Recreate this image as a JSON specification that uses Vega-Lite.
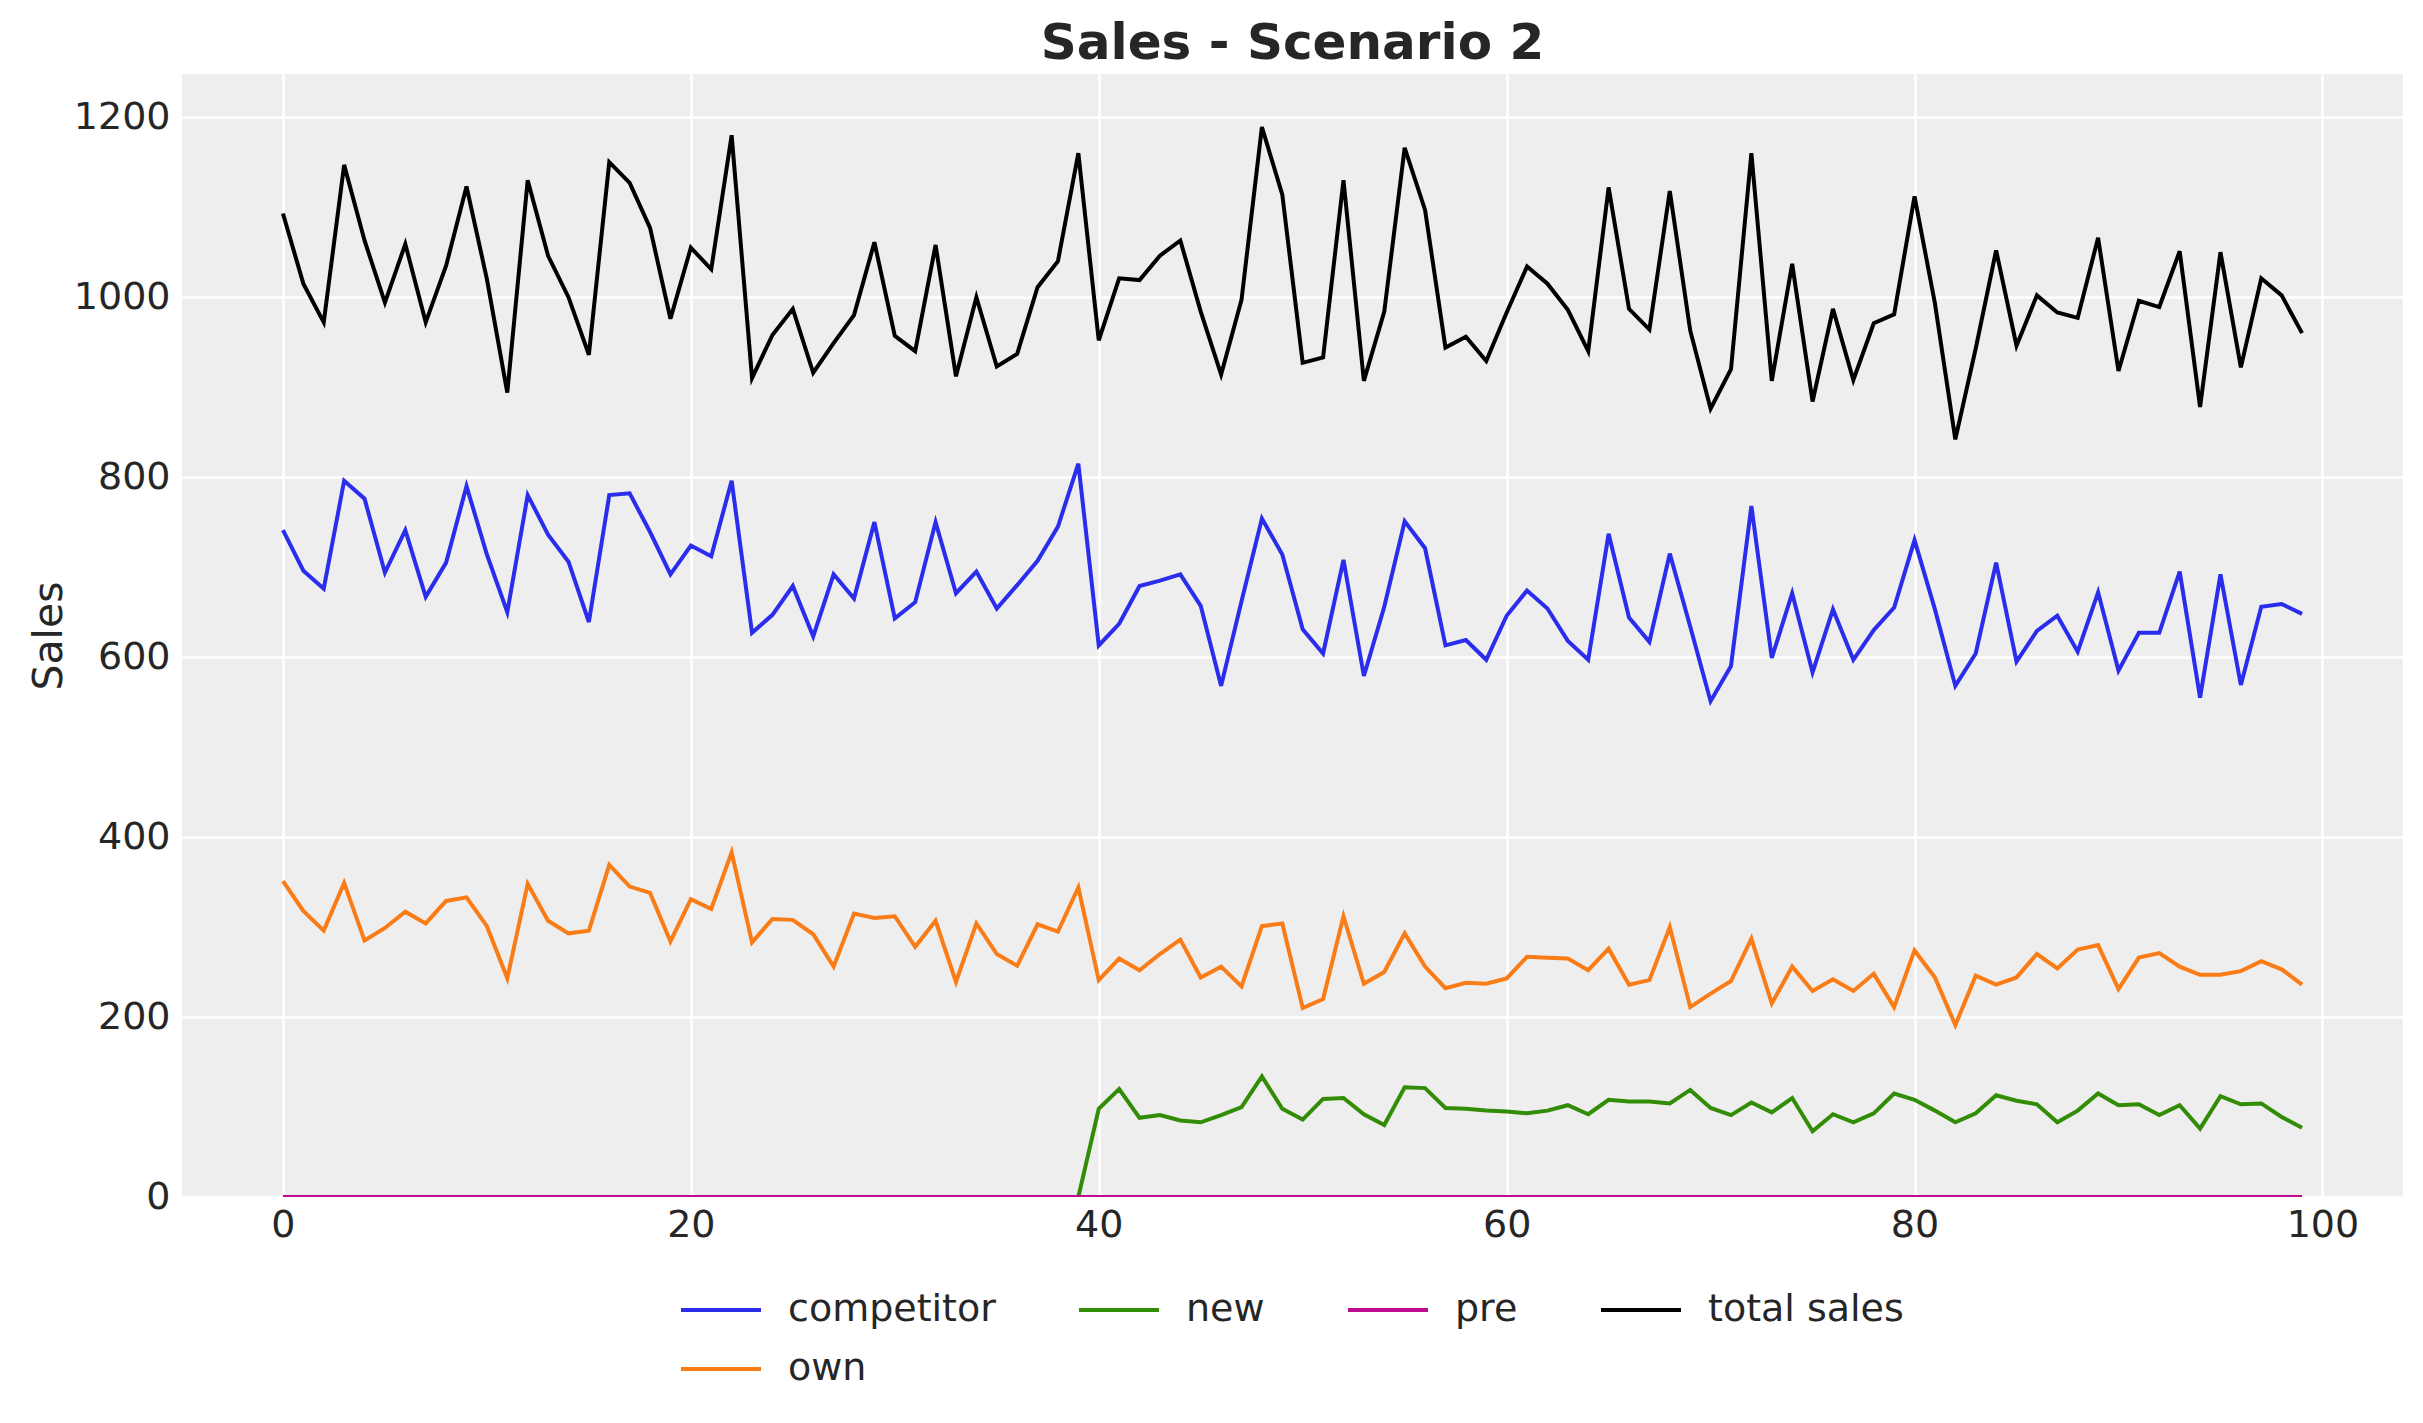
{
"$schema":"https://vega.github.io/schema/vega-lite/v6.json",
"width":2221,"height":1123,
"autosize":{"type":"none"},
"padding":{"left":182,"top":74,"right":20,"bottom":226},
"background":"white",
"title":{"text":"Sales - Scenario 2","font":"DejaVu Sans","fontSize":50,"fontWeight":"bold","color":"#262626","anchor":"middle","offset":5},
"config":{
"view":{"fill":"#eeeeee","stroke":null},
"axis":{"grid":true,"gridColor":"#ffffff","gridWidth":2.5,"domain":false,"ticks":false,"tickSize":0,"labelFont":"DejaVu Sans","labelFontSize":38,"labelColor":"#262626","titleFont":"DejaVu Sans","titleFontSize":41,"titleColor":"#262626","titleFontWeight":"normal"},
"legend":{"orient":"none","legendX":517,"legendY":1214,"direction":"horizontal","columns":4,"symbolType":"M-2,0H2","symbolSize":1600,"symbolStrokeWidth":4,"labelFont":"DejaVu Sans","labelFontSize":38,"labelColor":"#262626","labelOffset":45,"columnPadding":75,"rowPadding":18,"padding":0,"labelLimit":0}
},
"datasets":{
"competitor":[{"t":0,"v":741},{"t":1,"v":696},{"t":2,"v":676},{"t":3,"v":796},{"t":4,"v":776},{"t":5,"v":694},{"t":6,"v":741},{"t":7,"v":667},{"t":8,"v":705},{"t":9,"v":790},{"t":10,"v":714},{"t":11,"v":650},{"t":12,"v":780},{"t":13,"v":736},{"t":14,"v":706},{"t":15,"v":639},{"t":16,"v":780},{"t":17,"v":782},{"t":18,"v":739},{"t":19,"v":692},{"t":20,"v":724},{"t":21,"v":712},{"t":22,"v":796},{"t":23,"v":627},{"t":24,"v":647},{"t":25,"v":679},{"t":26,"v":623},{"t":27,"v":692},{"t":28,"v":665},{"t":29,"v":750},{"t":30,"v":643},{"t":31,"v":661},{"t":32,"v":750},{"t":33,"v":671},{"t":34,"v":695},{"t":35,"v":654},{"t":36,"v":680},{"t":37,"v":707},{"t":38,"v":745},{"t":39,"v":815},{"t":40,"v":613},{"t":41,"v":637},{"t":42,"v":679},{"t":43,"v":685},{"t":44,"v":692},{"t":45,"v":657},{"t":46,"v":568},{"t":47,"v":662},{"t":48,"v":754},{"t":49,"v":714},{"t":50,"v":631},{"t":51,"v":604},{"t":52,"v":708},{"t":53,"v":579},{"t":54,"v":656},{"t":55,"v":751},{"t":56,"v":721},{"t":57,"v":613},{"t":58,"v":619},{"t":59,"v":597},{"t":60,"v":646},{"t":61,"v":674},{"t":62,"v":654},{"t":63,"v":618},{"t":64,"v":597},{"t":65,"v":737},{"t":66,"v":644},{"t":67,"v":617},{"t":68,"v":715},{"t":69,"v":634},{"t":70,"v":551},{"t":71,"v":590},{"t":72,"v":768},{"t":73,"v":599},{"t":74,"v":671},{"t":75,"v":583},{"t":76,"v":653},{"t":77,"v":597},{"t":78,"v":630},{"t":79,"v":655},{"t":80,"v":730},{"t":81,"v":653},{"t":82,"v":568},{"t":83,"v":604},{"t":84,"v":705},{"t":85,"v":595},{"t":86,"v":629},{"t":87,"v":646},{"t":88,"v":606},{"t":89,"v":672},{"t":90,"v":585},{"t":91,"v":627},{"t":92,"v":627},{"t":93,"v":695},{"t":94,"v":555},{"t":95,"v":692},{"t":96,"v":569},{"t":97,"v":656},{"t":98,"v":659},{"t":99,"v":648}],
"own":[{"t":0,"v":351},{"t":1,"v":318},{"t":2,"v":296},{"t":3,"v":349},{"t":4,"v":285},{"t":5,"v":299},{"t":6,"v":317},{"t":7,"v":304},{"t":8,"v":329},{"t":9,"v":333},{"t":10,"v":301},{"t":11,"v":243},{"t":12,"v":348},{"t":13,"v":307},{"t":14,"v":293},{"t":15,"v":296},{"t":16,"v":369},{"t":17,"v":345},{"t":18,"v":338},{"t":19,"v":284},{"t":20,"v":331},{"t":21,"v":320},{"t":22,"v":383},{"t":23,"v":283},{"t":24,"v":309},{"t":25,"v":308},{"t":26,"v":292},{"t":27,"v":256},{"t":28,"v":315},{"t":29,"v":310},{"t":30,"v":312},{"t":31,"v":278},{"t":32,"v":307},{"t":33,"v":239},{"t":34,"v":304},{"t":35,"v":270},{"t":36,"v":257},{"t":37,"v":303},{"t":38,"v":295},{"t":39,"v":344},{"t":40,"v":241},{"t":41,"v":265},{"t":42,"v":252},{"t":43,"v":270},{"t":44,"v":286},{"t":45,"v":244},{"t":46,"v":256},{"t":47,"v":234},{"t":48,"v":301},{"t":49,"v":304},{"t":50,"v":210},{"t":51,"v":220},{"t":52,"v":312},{"t":53,"v":237},{"t":54,"v":250},{"t":55,"v":293},{"t":56,"v":256},{"t":57,"v":232},{"t":58,"v":238},{"t":59,"v":237},{"t":60,"v":243},{"t":61,"v":267},{"t":62,"v":266},{"t":63,"v":265},{"t":64,"v":252},{"t":65,"v":276},{"t":66,"v":236},{"t":67,"v":241},{"t":68,"v":300},{"t":69,"v":211},{"t":70,"v":226},{"t":71,"v":240},{"t":72,"v":287},{"t":73,"v":215},{"t":74,"v":256},{"t":75,"v":229},{"t":76,"v":242},{"t":77,"v":229},{"t":78,"v":248},{"t":79,"v":211},{"t":80,"v":274},{"t":81,"v":244},{"t":82,"v":191},{"t":83,"v":246},{"t":84,"v":236},{"t":85,"v":244},{"t":86,"v":270},{"t":87,"v":254},{"t":88,"v":275},{"t":89,"v":280},{"t":90,"v":231},{"t":91,"v":266},{"t":92,"v":271},{"t":93,"v":256},{"t":94,"v":247},{"t":95,"v":247},{"t":96,"v":251},{"t":97,"v":262},{"t":98,"v":253},{"t":99,"v":236}],
"new":[{"t":0,"v":0},{"t":1,"v":0},{"t":2,"v":0},{"t":3,"v":0},{"t":4,"v":0},{"t":5,"v":0},{"t":6,"v":0},{"t":7,"v":0},{"t":8,"v":0},{"t":9,"v":0},{"t":10,"v":0},{"t":11,"v":0},{"t":12,"v":0},{"t":13,"v":0},{"t":14,"v":0},{"t":15,"v":0},{"t":16,"v":0},{"t":17,"v":0},{"t":18,"v":0},{"t":19,"v":0},{"t":20,"v":0},{"t":21,"v":0},{"t":22,"v":0},{"t":23,"v":0},{"t":24,"v":0},{"t":25,"v":0},{"t":26,"v":0},{"t":27,"v":0},{"t":28,"v":0},{"t":29,"v":0},{"t":30,"v":0},{"t":31,"v":0},{"t":32,"v":0},{"t":33,"v":0},{"t":34,"v":0},{"t":35,"v":0},{"t":36,"v":0},{"t":37,"v":0},{"t":38,"v":0},{"t":39,"v":0},{"t":40,"v":98},{"t":41,"v":120},{"t":42,"v":88},{"t":43,"v":91},{"t":44,"v":85},{"t":45,"v":83},{"t":46,"v":91},{"t":47,"v":100},{"t":48,"v":134},{"t":49,"v":98},{"t":50,"v":86},{"t":51,"v":109},{"t":52,"v":110},{"t":53,"v":92},{"t":54,"v":80},{"t":55,"v":122},{"t":56,"v":121},{"t":57,"v":99},{"t":58,"v":98},{"t":59,"v":96},{"t":60,"v":95},{"t":61,"v":93},{"t":62,"v":96},{"t":63,"v":102},{"t":64,"v":92},{"t":65,"v":108},{"t":66,"v":106},{"t":67,"v":106},{"t":68,"v":104},{"t":69,"v":119},{"t":70,"v":99},{"t":71,"v":91},{"t":72,"v":105},{"t":73,"v":94},{"t":74,"v":110},{"t":75,"v":73},{"t":76,"v":92},{"t":77,"v":83},{"t":78,"v":93},{"t":79,"v":115},{"t":80,"v":108},{"t":81,"v":96},{"t":82,"v":83},{"t":83,"v":93},{"t":84,"v":113},{"t":85,"v":107},{"t":86,"v":103},{"t":87,"v":83},{"t":88,"v":96},{"t":89,"v":115},{"t":90,"v":102},{"t":91,"v":103},{"t":92,"v":91},{"t":93,"v":102},{"t":94,"v":76},{"t":95,"v":112},{"t":96,"v":103},{"t":97,"v":104},{"t":98,"v":89},{"t":99,"v":77}],
"pre":[{"t":0,"v":0},{"t":1,"v":0},{"t":2,"v":0},{"t":3,"v":0},{"t":4,"v":0},{"t":5,"v":0},{"t":6,"v":0},{"t":7,"v":0},{"t":8,"v":0},{"t":9,"v":0},{"t":10,"v":0},{"t":11,"v":0},{"t":12,"v":0},{"t":13,"v":0},{"t":14,"v":0},{"t":15,"v":0},{"t":16,"v":0},{"t":17,"v":0},{"t":18,"v":0},{"t":19,"v":0},{"t":20,"v":0},{"t":21,"v":0},{"t":22,"v":0},{"t":23,"v":0},{"t":24,"v":0},{"t":25,"v":0},{"t":26,"v":0},{"t":27,"v":0},{"t":28,"v":0},{"t":29,"v":0},{"t":30,"v":0},{"t":31,"v":0},{"t":32,"v":0},{"t":33,"v":0},{"t":34,"v":0},{"t":35,"v":0},{"t":36,"v":0},{"t":37,"v":0},{"t":38,"v":0},{"t":39,"v":0},{"t":40,"v":0},{"t":41,"v":0},{"t":42,"v":0},{"t":43,"v":0},{"t":44,"v":0},{"t":45,"v":0},{"t":46,"v":0},{"t":47,"v":0},{"t":48,"v":0},{"t":49,"v":0},{"t":50,"v":0},{"t":51,"v":0},{"t":52,"v":0},{"t":53,"v":0},{"t":54,"v":0},{"t":55,"v":0},{"t":56,"v":0},{"t":57,"v":0},{"t":58,"v":0},{"t":59,"v":0},{"t":60,"v":0},{"t":61,"v":0},{"t":62,"v":0},{"t":63,"v":0},{"t":64,"v":0},{"t":65,"v":0},{"t":66,"v":0},{"t":67,"v":0},{"t":68,"v":0},{"t":69,"v":0},{"t":70,"v":0},{"t":71,"v":0},{"t":72,"v":0},{"t":73,"v":0},{"t":74,"v":0},{"t":75,"v":0},{"t":76,"v":0},{"t":77,"v":0},{"t":78,"v":0},{"t":79,"v":0},{"t":80,"v":0},{"t":81,"v":0},{"t":82,"v":0},{"t":83,"v":0},{"t":84,"v":0},{"t":85,"v":0},{"t":86,"v":0},{"t":87,"v":0},{"t":88,"v":0},{"t":89,"v":0},{"t":90,"v":0},{"t":91,"v":0},{"t":92,"v":0},{"t":93,"v":0},{"t":94,"v":0},{"t":95,"v":0},{"t":96,"v":0},{"t":97,"v":0},{"t":98,"v":0},{"t":99,"v":0}],
"total":[{"t":0,"v":1093},{"t":1,"v":1015},{"t":2,"v":972},{"t":3,"v":1147},{"t":4,"v":1063},{"t":5,"v":994},{"t":6,"v":1059},{"t":7,"v":972},{"t":8,"v":1035},{"t":9,"v":1123},{"t":10,"v":1020},{"t":11,"v":894},{"t":12,"v":1130},{"t":13,"v":1046},{"t":14,"v":1000},{"t":15,"v":936},{"t":16,"v":1150},{"t":17,"v":1127},{"t":18,"v":1077},{"t":19,"v":976},{"t":20,"v":1055},{"t":21,"v":1031},{"t":22,"v":1180},{"t":23,"v":910},{"t":24,"v":958},{"t":25,"v":987},{"t":26,"v":916},{"t":27,"v":949},{"t":28,"v":980},{"t":29,"v":1061},{"t":30,"v":957},{"t":31,"v":940},{"t":32,"v":1058},{"t":33,"v":912},{"t":34,"v":1000},{"t":35,"v":923},{"t":36,"v":937},{"t":37,"v":1011},{"t":38,"v":1040},{"t":39,"v":1160},{"t":40,"v":952},{"t":41,"v":1021},{"t":42,"v":1019},{"t":43,"v":1046},{"t":44,"v":1063},{"t":45,"v":984},{"t":46,"v":914},{"t":47,"v":997},{"t":48,"v":1189},{"t":49,"v":1114},{"t":50,"v":927},{"t":51,"v":933},{"t":52,"v":1130},{"t":53,"v":907},{"t":54,"v":984},{"t":55,"v":1166},{"t":56,"v":1097},{"t":57,"v":944},{"t":58,"v":956},{"t":59,"v":929},{"t":60,"v":983},{"t":61,"v":1034},{"t":62,"v":1015},{"t":63,"v":986},{"t":64,"v":940},{"t":65,"v":1122},{"t":66,"v":987},{"t":67,"v":964},{"t":68,"v":1118},{"t":69,"v":963},{"t":70,"v":876},{"t":71,"v":920},{"t":72,"v":1160},{"t":73,"v":907},{"t":74,"v":1037},{"t":75,"v":884},{"t":76,"v":987},{"t":77,"v":908},{"t":78,"v":971},{"t":79,"v":981},{"t":80,"v":1112},{"t":81,"v":993},{"t":82,"v":842},{"t":83,"v":943},{"t":84,"v":1052},{"t":85,"v":946},{"t":86,"v":1002},{"t":87,"v":983},{"t":88,"v":977},{"t":89,"v":1066},{"t":90,"v":918},{"t":91,"v":996},{"t":92,"v":989},{"t":93,"v":1051},{"t":94,"v":878},{"t":95,"v":1050},{"t":96,"v":922},{"t":97,"v":1021},{"t":98,"v":1002},{"t":99,"v":960}]
},
"encoding":{
"x":{"field":"t","type":"quantitative","scale":{"domain":[-4.95,103.95],"nice":false,"zero":false},"axis":{"values":[0,20,40,60,80,100],"format":"d","title":null,"labelPadding":9}},
"y":{"field":"v","type":"quantitative","scale":{"domain":[0,1248],"nice":false},"axis":{"values":[0,200,400,600,800,1000,1200],"format":"d","title":"Sales","labelPadding":12,"titleAngle":-90,"titleX":-121,"titleY":561.5,"titleAlign":"center","titleBaseline":"alphabetic"}}
},
"layer":[
{"data":{"name":"competitor"},"mark":{"type":"line","strokeWidth":4,"clip":true},"encoding":{"color":{"datum":"competitor","type":"nominal","scale":{"domain":["competitor","new","pre","total sales","own"],"range":["#2a2eec","#328c06","#c10c90","#000000","#fa7c17"]},"legend":{"title":null}}}},
{"data":{"name":"own"},"mark":{"type":"line","strokeWidth":4,"clip":true},"encoding":{"color":{"datum":"own","type":"nominal"}}},
{"data":{"name":"new"},"mark":{"type":"line","strokeWidth":4,"clip":true},"encoding":{"color":{"datum":"new","type":"nominal"}}},
{"data":{"name":"pre"},"mark":{"type":"line","strokeWidth":4,"clip":true},"encoding":{"color":{"datum":"pre","type":"nominal"}}},
{"data":{"name":"total"},"mark":{"type":"line","strokeWidth":4,"clip":true},"encoding":{"color":{"datum":"total sales","type":"nominal"}}}
]
}
